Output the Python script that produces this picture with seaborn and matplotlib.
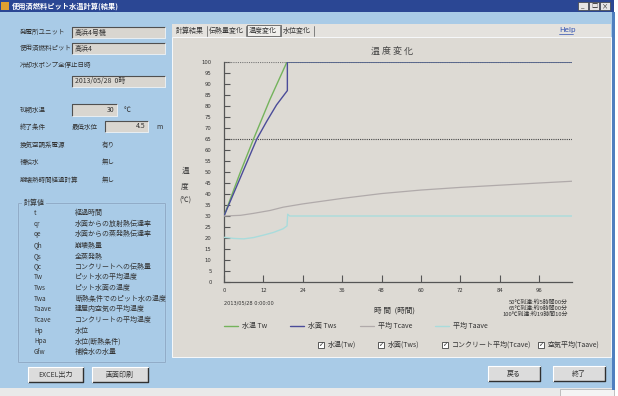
import matplotlib
matplotlib.use("Agg")
import matplotlib.pyplot as plt
from matplotlib.patches import Rectangle
import seaborn as sns
import pandas as pd

# ---- series (hours elapsed, temperature in deg C) ----
hours_tw = [0, 2, 5, 9, 14, 19.17, 106]
temp_tw = [30, 38, 50, 65, 83, 100, 100]

hours_tws = [0, 5, 10, 13, 16, 19.3, 19.3, 106]
temp_tws = [30, 47.5, 65, 73, 80.5, 87, 100, 100]

hours_tcave = [0, 5, 9, 14, 18, 24, 36, 48, 60, 72, 84, 96, 106]
temp_tcave = [30, 30.3, 31.2, 32.5, 34, 35.5, 38, 40.2, 41.8, 43, 44, 45, 45.8]

hours_taave = [0, 3, 6, 9, 12, 15, 18, 19.2, 19.4, 20, 24, 36, 48, 60, 72, 84, 96, 106]
temp_taave = [20.3, 19.8, 19.6, 20.2, 21.3, 22.5, 24.2, 25.5, 30.8, 30, 30, 30, 30, 30, 30, 30, 30, 30]

series_labels = ["水温 Tw", "水面 Tws", "平均 Tcave", "平均 Taave"]
series_colors = ["#74b35c", "#4b4c99", "#b0aaaa", "#a9dcdc"]

limit_lines = [100, 65]
x_ticks = [0, 12, 24, 36, 48, 60, 72, 84, 96]
y_ticks = list(range(0, 101, 5))

arrival_notes = ["50℃到達:約5時間00分", "65℃到達:約9時間00分", "100℃到達:約19時間10分"]
start_stamp = "2013/05/28 0:00:00"

check_labels = ["水温(Tw)", "水面(Tws)", "コンクリート平均(Tcave)", "空気平均(Taave)"]

calc_symbols = ["t", "qr", "qe", "Qh", "Qs", "Qc", "Tw", "Tws", "Twa",
                "Taave", "Tcave", "Hp", "Hpa", "Gfw"]
calc_desc = ["経過時間", "水面からの放射熱伝達率", "水面からの蒸発熱伝達率", "崩壊熱量",
             "全蒸発熱", "コンクリートへの伝熱量", "ピット水の平均温度", "ピット水面の温度",
             "断熱条件でのピット水の温度", "建屋内空気の平均温度", "コンクリートの平均温度",
             "水位", "水位(断熱条件)", "補給水の水量"]

sns.set_theme(style="white")
plt.rcParams["font.family"] = ["Noto Sans CJK JP", "DejaVu Sans"]

W, H = 618, 396
fig = plt.figure(figsize=(W / 100, H / 100), dpi=100)
fig.patch.set_facecolor("#ffffff")

bg = fig.add_axes([0, 0, 1, 1], zorder=0)
bg.set_xlim(0, W)
bg.set_ylim(H, 0)
bg.axis("off")

PANEL_BLUE = "#a9cbe7"
PANEL_GREY = "#dddad4"
TEXT = "#333333"


def rect(x, y, w, h, fc, ec="none", lw=0.8, z=1):
    bg.add_patch(Rectangle((x, y), w, h, facecolor=fc, edgecolor=ec, linewidth=lw, zorder=z))


def txt(x, y, s, size=5, ha="left", va="center", color=TEXT, **kw):
    bg.text(x, y, s, fontsize=size, ha=ha, va=va, color=color, zorder=5, **kw)


def inset_box(x, y, w, h):
    rect(x, y, w, h, "#d9d6d0", z=2)
    bg.plot([x, x, x + w], [y + h, y, y], color="#505050", lw=0.8, zorder=3)
    bg.plot([x, x + w, x + w], [y + h, y + h, y], color="#f4f4f4", lw=0.6, zorder=3)


def button(x, y, w, h, label):
    rect(x, y, w, h, "#dcdcdc", z=2)
    bg.plot([x, x + w, x + w], [y + h, y + h, y], color="#303030", lw=1.0, zorder=3)
    bg.plot([x, x, x + w], [y + h, y, y], color="#ffffff", lw=0.8, zorder=3)
    txt(x + w / 2, y + h / 2, label, size=5, ha="center")


# window body and title bar
rect(0, 0, 614, 390, PANEL_BLUE)
rect(0, 0, 614, 12, "#2b4794")
rect(1, 2, 8, 8, "#e0a030", z=2)
txt(12, 6.5, "使用済燃料ピット水温計算(結果)", size=5.2, color="white", weight="bold")
for i, sym in enumerate(["_", "□", "×"]):
    rect(578 + i * 11, 2, 10, 8, "#e6e6e6", ec="#404040", lw=0.5, z=2)
    txt(583 + i * 11, 6, sym, size=4.5, ha="center", color="#202020")
rect(0, 388, 614, 8, "#e9e9e9")
rect(560, 389, 54, 7, "#f4f4f4", ec="#aaaaaa", lw=0.5)
rect(612, 12, 3, 378, "#4f7fbf")

# left input panel
txt(20, 32, "発電所ユニット", size=4.7)
inset_box(72, 27, 93, 11)
txt(75, 32.5, "高浜4号機")
txt(20, 48, "使用済燃料ピット", size=4.7)
inset_box(72, 43, 93, 11)
txt(75, 48.5, "高浜4")
txt(20, 65, "冷却水ポンプ全停止日時", size=4.7)
inset_box(72, 76, 93, 11)
txt(75, 81.5, "2013/05/28  0時")
txt(20, 110, "初期水温", size=4.7)
inset_box(72, 104, 45, 12)
txt(114, 110, "30", ha="right")
txt(124, 110, "℃")
txt(20, 127, "終了条件", size=4.7)
txt(72, 127, "最低水位", size=4.7)
inset_box(105, 121, 43, 11)
txt(145, 126.5, "4.5", ha="right")
txt(156, 127, "m")
txt(20, 145, "換気空調系電源", size=4.7)
txt(102, 145, "有り", size=4.7)
txt(20, 162, "補給水", size=4.7)
txt(102, 162, "無し", size=4.7)
txt(20, 180, "崩壊熱時間経過計算", size=4.7)
txt(102, 180, "無し", size=4.7)

# calculated-value legend group
rect(18, 203, 147, 159, "none", ec="#eef4fa", lw=0.8, z=2)
rect(17.5, 202.5, 147, 159, "none", ec="#7f9fbf", lw=0.6, z=2)
rect(22, 199, 24, 8, PANEL_BLUE, z=3)
txt(24, 203, "計算値")
for i, (sym, desc) in enumerate(zip(calc_symbols, calc_desc)):
    yy = 213 + i * 10.7
    txt(34, yy, sym, size=4.6)
    txt(75, yy, desc)

button(28, 367, 55, 15, "EXCEL出力")
button(92, 367, 56, 15, "画面印刷")
button(488, 366, 52, 15, "戻る")
button(553, 366, 52, 15, "終了")

# chart page with tabs
rect(172, 37, 439, 320, PANEL_GREY, ec="#ffffff", lw=0.6)
rect(172, 24, 439, 13, "#e4e2de")
tab_names = ["計算結果", "伝熱量変化", "温度変化", "水位変化"]
tab_x = [176, 209, 249, 283]
for name, tx in zip(tab_names, tab_x):
    txt(tx, 31, name)
    width = 30 if len(name) == 4 else 36
    bg.plot([tx + width + 1, tx + width + 1], [26, 36], color="#707070", lw=0.6, zorder=4)
rect(247, 25, 34, 11, "#f0efec", ec="#606060", lw=0.6, z=3)
txt(559, 30, "Help", size=5.2, color="#3050b0", family="DejaVu Sans")
bg.plot([559, 573], [33.5, 33.5], color="#3050b0", lw=0.5, zorder=5)

txt(392, 51, "温 度 変 化", size=6.5, ha="center", color="#444444")
txt(185, 171, "温", size=5.5, ha="center")
txt(185, 186, "度", size=5.5, ha="center")
txt(185, 201, "(℃)", size=5.2, ha="center")
txt(395, 311, "時 間  (時間)", size=5.5, ha="center")
txt(224, 303, start_stamp, size=3.6, family="DejaVu Sans")
for i, note in enumerate(arrival_notes):
    txt(568, 302.5 + i * 5.8, note, size=4.2, ha="right", linespacing=1.0)

# checkboxes
check_x = [318, 378, 442, 538]
for lbl, cx in zip(check_labels, check_x):
    rect(cx, 342, 6, 6, "#ffffff", ec="#404040", lw=0.6, z=3)
    txt(cx + 3, 345, "✓", size=4.5, ha="center", family="DejaVu Sans", color="#202020")
    txt(cx + 10, 345, lbl, size=5)

# ---- the temperature chart ----
ax = fig.add_axes([224 / W, 1 - 282 / H, (572 - 224) / W, (282 - 62) / H], zorder=2)
ax.set_facecolor("none")

frames = [
    pd.DataFrame({"hours": hours_tw, "temp": temp_tw}),
    pd.DataFrame({"hours": hours_tws, "temp": temp_tws}),
    pd.DataFrame({"hours": hours_tcave, "temp": temp_tcave}),
    pd.DataFrame({"hours": hours_taave, "temp": temp_taave}),
]
widths = [1.0, 1.0, 0.9, 1.0]
for df, lbl, col, lw in zip(frames, series_labels, series_colors, widths):
    sns.lineplot(data=df, x="hours", y="temp", ax=ax, color=col, lw=lw, label=lbl,
                 estimator=None, sort=False, zorder=3)

ax.axhline(limit_lines[0], color="#777777", lw=0.8, ls=(0, (1, 1)), zorder=2)
ax.axhline(limit_lines[1], color="#444444", lw=0.8, ls=(0, (1, 1)), zorder=2)

ax.set_xlim(0, 106)
ax.set_ylim(0, 100)
ax.set_xticks(x_ticks)
ax.set_yticks(y_ticks)
ax.set_xlabel("")
ax.set_ylabel("")
for side in ["top", "right"]:
    ax.spines[side].set_visible(False)
for side in ["left", "bottom"]:
    ax.spines[side].set_color("#555555")
    ax.spines[side].set_linewidth(0.9)
ax.tick_params(axis="y", direction="in", length=4, width=0.8, color="#555555",
               labelsize=3.8, pad=9, labelcolor="#333333", left=True)
ax.tick_params(axis="x", direction="in", length=5, width=0.8, color="#555555",
               labelsize=3.8, pad=4, labelcolor="#333333", bottom=True)
for lab in ax.get_xticklabels() + ax.get_yticklabels():
    lab.set_family("DejaVu Sans")

leg = ax.legend(loc="center left", bbox_to_anchor=(224 / W, 1 - 326 / H),
                bbox_transform=fig.transFigure, ncol=4, frameon=False,
                fontsize=5, handlelength=2.0, handletextpad=0.6, columnspacing=3.3,
                borderaxespad=0, borderpad=0)
for t in leg.get_texts():
    t.set_color("#333333")

fig.savefig("out.png", dpi=100, facecolor=fig.get_facecolor())
